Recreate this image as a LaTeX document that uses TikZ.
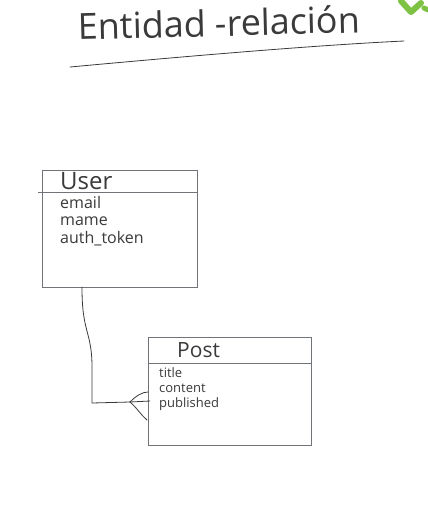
\documentclass[tikz,border=0pt]{standalone}
\usepackage{fontspec}
\setmainfont{Open Sans}
\definecolor{boxgray}{HTML}{707478}
\definecolor{inkgray}{HTML}{3A3A3A}
\definecolor{logogreen}{HTML}{7DC242}
\begin{document}
\begin{tikzpicture}[x=1pt,y=-1pt,
  box/.style={draw=boxgray,line width=0.9pt},
  ink/.style={draw=inkgray,line width=0.8pt,line cap=round,line join=round},
  hand/.style={text=inkgray,inner sep=0pt,anchor=base west},
  title/.style={hand,font=\fontsize{36}{36}\selectfont},
  head/.style={hand,font=\fontsize{21}{21}\selectfont},
  uattr/.style={hand,font=\fontsize{16}{16}\selectfont},
  pattr/.style={hand,font=\fontsize{13}{13}\selectfont}]
\useasboundingbox (0,0) rectangle (428,507);
\fill[white] (0,0) rectangle (428,507);
% logo fragment
\draw[logogreen,line width=6pt,line cap=round,line join=round] (401,1) -- (411,12) -- (421,3);
\draw[logogreen,line width=5pt,line cap=round] (424,8) -- (428,10);
% title
\node[title,rotate=1.5] (t) at (78,40) {Entidad -relación};
\draw[ink] (70,67) .. controls (200,55) and (320,45) .. (404,41);
% User entity
\draw[box] (42,170) rectangle (197,287);
\draw[box] (38,192) -- (197,192);
\node[head,font=\fontsize{24}{24}\selectfont] (user) at (60,189) {User};
\node[uattr] (u1) at (60,208) {email};
\node[uattr] (u2) at (60,225) {mame};
\node[uattr] (u3) at (60,243) {auth\_token};
\coordinate (ub) at (82,287);
% Post entity
\draw[box] (148,337) rectangle (311,445);
\draw[box] (148,363) -- (311,363);
\node[head] (post) at (177,357) {Post};
\node[pattr] (p1) at (159,377) {title};
\node[pattr] (p2) at (159,392) {content};
\node[pattr] (p3) at (159,407) {published};
% connector with crow's foot
\coordinate (cf) at (130,402);
\draw[ink] (ub) .. controls (82,310) and (84,320) .. (88,335)
  .. controls (92,350) and (92,360) .. (92,370) -- (92,403) -- (cf);
\draw[ink] (cf) .. controls (136,396) and (142,392) .. (148,392);
\draw[ink] (cf) -- (150,401);
\draw[ink] (cf) .. controls (137,408) and (141,415) .. (147,420);
\end{tikzpicture}
\end{document}
